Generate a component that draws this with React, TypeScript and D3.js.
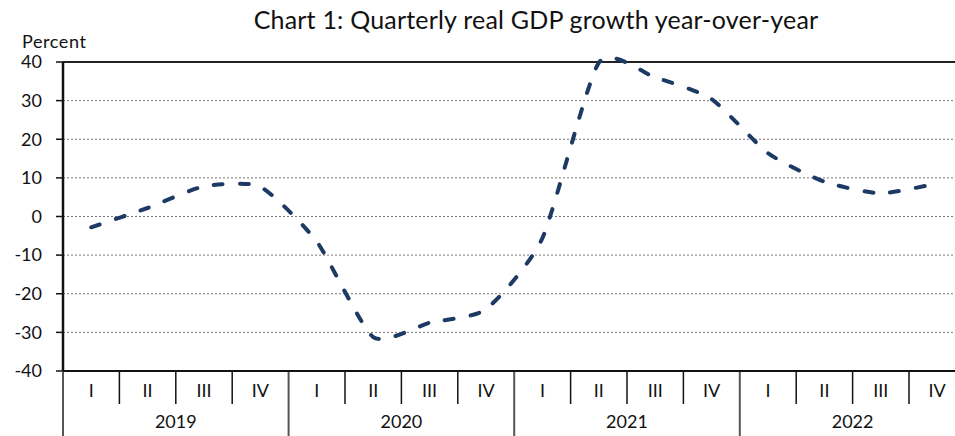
import React from "react";
import * as d3 from "d3";

const years = ["2019", "2020", "2021", "2022"];
const quarters = ["I", "II", "III", "IV"];
const growth = [-2.8, 2.2, 7.8, 7.7, -6.5, -31.2, -27.5, -24.0, -5.6, 39.8, 36.0, 30.4, 16.4, 9.0, 6.0, 8.6];
const yTicks = [40, 30, 20, 10, 0, -10, -20, -30, -40];

const W = 955, H = 436;
const left = 63, top = 62, bottom = 371, quarterW = 56.4;
const right = left + quarterW * growth.length;
const font = "Lato, 'Open Sans', sans-serif";

export default function App() {
  const x = d3.scaleLinear().domain([0, growth.length]).range([left, right]);
  const y = d3.scaleLinear().domain([-40, 40]).range([bottom, top]);
  const line = d3
    .line<number>()
    .x((_, i) => x(i + 0.5))
    .y((d) => y(d))
    .curve(d3.curveCardinal.tension(0.4));
  const path = line(growth) || "";
  const qIdx = d3.range(growth.length);
  return (
    <svg width={W} height={H} style={{ position: "absolute", left: 0, top: 0, background: "#fff" }}>
      <text x={536} y={29} textAnchor="middle" fontFamily={font} fontSize={25} letterSpacing={0.2} fill="#111">
        Chart 1: Quarterly real GDP growth year-over-year
      </text>
      <text x={22} y={48} fontFamily={font} fontSize={18} letterSpacing={0.6} fill="#111">Percent</text>
      {yTicks.filter((t) => t !== 40 && t !== -40).map((t) => (
        <line key={"g" + t} x1={left} x2={W} y1={y(t)} y2={y(t)} stroke="#777" strokeWidth={1} strokeDasharray="2 2" />
      ))}
      <line x1={left} x2={W} y1={y(40)} y2={y(40)} stroke="#222" strokeWidth={2} />
      {yTicks.map((t) => (
        <g key={"t" + t}>
          <line x1={56} x2={left} y1={y(t)} y2={y(t)} stroke="#111" strokeWidth={1.5} />
          <text x={42} y={y(t)} dy="0.35em" textAnchor="end" fontFamily={font} fontSize={18} fill="#111">
            {t}
          </text>
        </g>
      ))}
      {qIdx.map((i) =>
        i % 4 === 0 ? (
          <line key={"s" + i} x1={x(i)} x2={x(i)} y1={bottom} y2={H} stroke="#555" strokeWidth={2} />
        ) : (
          <line key={"s" + i} x1={x(i)} x2={x(i)} y1={bottom} y2={404} stroke="#111" strokeWidth={1.5} />
        )
      )}
      {qIdx.map((i) => (
        <text key={"q" + i} x={x(i + 0.5)} y={391} dy="0.35em" textAnchor="middle" fontFamily={font} fontSize={18} fill="#111">
          {quarters[i % 4]}
        </text>
      ))}
      {years.map((yr, k) => (
        <text key={yr} x={x(k * 4 + 2)} y={422} dy="0.35em" textAnchor="middle" fontFamily={font} fontSize={18} fill="#111">
          {yr}
        </text>
      ))}
      <line x1={left} x2={W} y1={bottom} y2={bottom} stroke="#111" strokeWidth={2} />
      <line x1={left} x2={left} y1={top} y2={bottom} stroke="#111" strokeWidth={2.5} />
      <path d={path} fill="none" stroke="#1c3a64" strokeWidth={4} strokeLinecap="round" strokeDasharray="9 17" />
    </svg>
  );
}
